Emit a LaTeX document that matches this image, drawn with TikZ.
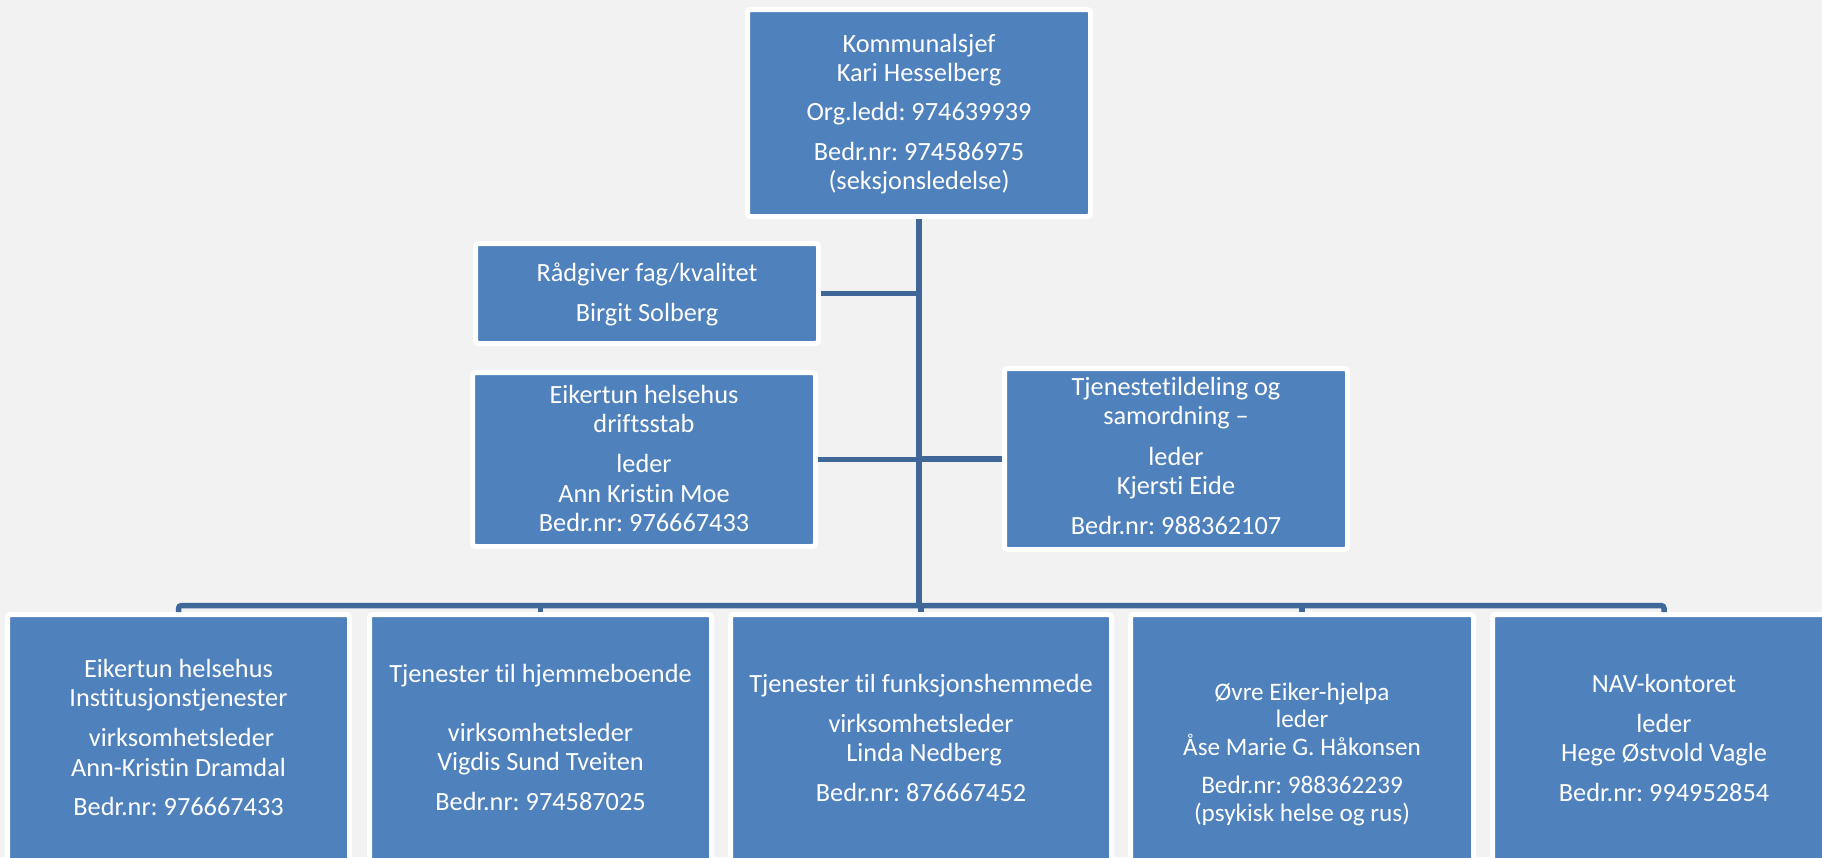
\documentclass[tikz,border=0pt]{standalone}
\usepackage{fontspec}
\setmainfont{Carlito}[Ligatures=NoCommon]
\frenchspacing
\definecolor{boxblue}{HTML}{4F81BD}
\definecolor{conncol}{HTML}{3F6797}
\definecolor{bgcol}{HTML}{F2F2F2}
\newcommand{\fl}{\rule{0pt}{24pt}}
\tikzset{
  orgbox/.style={draw=white, line width=5pt, fill=boxblue, rounded corners=3pt,
    inner sep=0pt, outer sep=2.5pt, rectangle},
  orgtxt/.style={text=white, align=center, inner sep=0pt, anchor=north,
    font=\fontsize{26.3}{29.3}\selectfont\frenchspacing},
  smalltxt/.style={orgtxt, font=\fontsize{25.2}{27.5}\selectfont\frenchspacing},
  conn/.style={draw=conncol, line width=5.5pt}
}
\begin{document}
\begin{tikzpicture}[x=1pt, y=-1pt]
\useasboundingbox (0,0) rectangle (1822,857);
\fill[bgcol] (0,0) rectangle (1822,857);

% boxes
\node[orgbox, minimum width=343pt, minimum height=207pt] (top) at (919,113) {};
\node[orgbox, minimum width=343pt, minimum height=100pt] (rad) at (647,293.5) {};
\node[orgbox, minimum width=343pt, minimum height=174pt] (drift) at (644,459.5) {};
\node[orgbox, minimum width=343pt, minimum height=181pt] (tjen) at (1176,459) {};
\node[orgbox, minimum width=342pt, minimum height=285.5pt] (b1) at (178.5,757.25) {};
\node[orgbox, minimum width=342pt, minimum height=285.5pt] (b2) at (540.5,757.25) {};
\node[orgbox, minimum width=381pt, minimum height=285.5pt] (b3) at (921,757.25) {};
\node[orgbox, minimum width=343pt, minimum height=285.5pt] (b4) at (1302,757.25) {};
\node[orgbox, minimum width=343pt, minimum height=285.5pt] (b5) at (1664,757.25) {};

% connectors
\coordinate (busy) at (919,605.5);
\draw[conn] (top.south) -- (top.south |- busy);
\draw[conn] (rad.east) -- (rad.east -| top.south);
\draw[conn] (drift.east) -- (drift.east -| top.south);
\draw[conn] (tjen.west) -- (tjen.west -| top.south);
\draw[conn, rounded corners=3pt] (b1.north) -- (b1.north |- busy) -- (b5.north |- busy) -- (b5.north);
\draw[conn] (b2.north) -- (b2.north |- busy);
\draw[conn] (b3.north) -- (b3.north |- busy);
\draw[conn] (b4.north) -- (b4.north |- busy);

% texts
\node[orgtxt] (topt) at (919,28) {\fl Kommunalsjef\\Kari Hesselberg\\[10pt]Org.ledd: 974639939\\[10pt]Bedr.nr: 974586975\\(seksjonsledelse)};
\node[orgtxt] (radt) at (647,257) {\fl Rådgiver fag/kvalitet\\[10.5pt]Birgit Solberg};
\node[orgtxt] (driftt) at (644,379) {\fl Eikertun helsehus\\driftsstab\\[11pt]leder\\Ann Kristin Moe\\Bedr.nr: 976667433};
\node[orgtxt] (tjent) at (1176,371) {\fl Tjenestetildeling og\\samordning –\\[11.5pt]leder\\Kjersti Eide\\[11pt]Bedr.nr: 988362107};
\node[orgtxt] (b1t) at (178.5,653) {\fl Eikertun helsehus\\Institusjonstjenester\\[11pt]\hspace*{6pt}virksomhetsleder\\Ann-Kristin Dramdal\\[10.5pt]Bedr.nr: 976667433};
\node[orgtxt] (b2t) at (540.5,658) {\fl Tjenester til hjemmeboende\\[29.5pt]virksomhetsleder\\Vigdis Sund Tveiten\\[10.5pt]Bedr.nr: 974587025};
\node[orgtxt] (b3t) at (921,668) {\fl Tjenester til funksjonshemmede\\[10.5pt]virksomhetsleder\\\hspace*{6pt}Linda Nedberg\\[10.5pt]Bedr.nr: 876667452};
\node[smalltxt] (b4t) at (1302,676) {\fl Øvre Eiker-hjelpa\\leder\\Åse Marie G. Håkonsen\\[11pt]Bedr.nr: 988362239\\(psykisk helse og rus)};
\node[orgtxt] (b5t) at (1664,668) {\fl NAV-kontoret\\[10.5pt]leder\\Hege Østvold Vagle\\[10.5pt]Bedr.nr: 994952854};
\end{tikzpicture}
\end{document}
